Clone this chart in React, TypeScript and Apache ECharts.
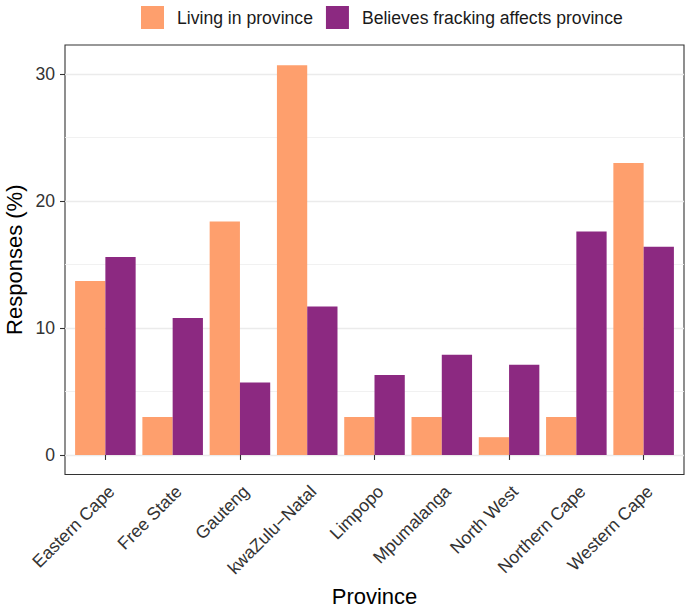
import React, { useEffect, useRef } from "react";
import * as echarts from "echarts";

const provinces = [
  "Eastern Cape",
  "Free State",
  "Gauteng",
  "kwaZulu\u2212Natal",
  "Limpopo",
  "Mpumalanga",
  "North West",
  "Northern Cape",
  "Western Cape",
];
const seriesNames = ["Living in province", "Believes fracking affects province"];
const livingInProvince = [13.7, 3.0, 18.4, 30.7, 3.0, 3.0, 1.4, 3.0, 23.0];
const believesAffects = [15.6, 10.8, 5.7, 11.7, 6.3, 7.9, 7.1, 17.6, 16.4];
const yMajorTicks = [0, 10, 20, 30];
const yMinorTicks = [5, 15, 25];
const yTitle = "Responses (%)";
const xTitle = "Province";

const Y_MIN = -1.54;
const Y_MAX = 32.3;
const FONT = "'Liberation Sans', Arial, Helvetica, sans-serif";

export default function App() {
  const ref = useRef<HTMLDivElement>(null);
  useEffect(() => {
    if (!ref.current) return;
    const chart = echarts.init(ref.current, undefined, { renderer: "svg" });
    const top = 45;
    const height = 429.5;
    const panelLeft = 65;
    const panelWidth = 619;
    const unit = panelWidth / (provinces.length + 0.2);
    const innerLeft = panelLeft + 0.1 * unit;
    const innerWidth = unit * provinces.length;
    chart.setOption({
      animation: false,
      textStyle: { fontFamily: FONT },
      grid: [
        {
          left: panelLeft,
          top,
          width: panelWidth,
          height,
          show: true,
          borderColor: "#333333",
          borderWidth: 1.1,
          backgroundColor: "transparent",
        },
        { left: innerLeft, top, width: innerWidth, height },
        { left: innerLeft + 6, top, width: innerWidth, height },
      ],
      legend: {
        data: seriesNames,
        left: 136,
        top: 1,
        itemWidth: 23,
        itemHeight: 23,
        itemGap: 13,
        icon: "rect",
        textStyle: {
          fontSize: 17.6,
          color: "#1a1a1a",
          fontFamily: FONT,
          padding: [0, 0, 0, 8],
        },
      },
      xAxis: [
        { type: "value", gridIndex: 0, min: 0, max: 1, show: false },
        {
          type: "category",
          gridIndex: 1,
          data: provinces,
          axisLine: { show: false },
          axisTick: {
            show: true,
            alignWithLabel: true,
            length: 5,
            lineStyle: { color: "#333333", width: 1.1 },
          },
          axisLabel: { show: false },
        },
        {
          type: "category",
          gridIndex: 2,
          data: provinces,
          axisLine: { show: false },
          axisTick: { show: false },
          axisLabel: {
            show: true,
            interval: 0,
            rotate: 45,
            margin: 14,
            fontSize: 17.6,
            color: "#333333",
            fontFamily: FONT,
          },
        },
      ],
      yAxis: [
        {
          type: "value",
          gridIndex: 0,
          min: Y_MIN,
          max: Y_MAX,
          axisLine: { show: false },
          axisTick: {
            show: true,
            length: 5,
            customValues: yMajorTicks,
            lineStyle: { color: "#333333", width: 1.1 },
          },
          axisLabel: {
            show: true,
            customValues: yMajorTicks,
            margin: 10,
            fontSize: 17.6,
            color: "#333333",
            fontFamily: FONT,
          },
          splitLine: { show: true, lineStyle: { color: "#EBEBEB", width: 1.3 } },
        },
        {
          type: "value",
          gridIndex: 0,
          min: Y_MIN,
          max: Y_MAX,
          axisLine: { show: false },
          axisTick: { show: false, customValues: yMinorTicks },
          axisLabel: { show: false, customValues: yMinorTicks },
          splitLine: { show: true, lineStyle: { color: "#EFEFEF", width: 0.9 } },
        },
        { type: "value", gridIndex: 1, min: Y_MIN, max: Y_MAX, show: false },
        { type: "value", gridIndex: 2, min: Y_MIN, max: Y_MAX, show: false },
      ],
      series: [
        {
          name: seriesNames[0],
          type: "bar",
          xAxisIndex: 1,
          yAxisIndex: 2,
          data: livingInProvince,
          barWidth: "45%",
          barGap: "0%",
          itemStyle: { color: "#FE9F6D" },
        },
        {
          name: seriesNames[1],
          type: "bar",
          xAxisIndex: 1,
          yAxisIndex: 2,
          data: believesAffects,
          barWidth: "45%",
          barGap: "0%",
          itemStyle: { color: "#8C2981" },
        },
      ],
      graphic: [
        {
          type: "text",
          x: 14,
          y: top + height / 2,
          rotation: Math.PI / 2,
          style: {
            text: yTitle,
            fontSize: 22,
            fill: "#000000",
            fontFamily: FONT,
            align: "center",
            verticalAlign: "middle",
          },
        },
        {
          type: "text",
          x: panelLeft + panelWidth / 2,
          y: 596,
          style: {
            text: xTitle,
            fontSize: 22,
            fill: "#000000",
            fontFamily: FONT,
            align: "center",
            verticalAlign: "middle",
          },
        },
      ],
    });
    return () => chart.dispose();
  }, []);
  return (
    <div
      ref={ref}
      style={{ position: "fixed", left: 0, top: 0, width: 685, height: 607, background: "#fff" }}
    />
  );
}
